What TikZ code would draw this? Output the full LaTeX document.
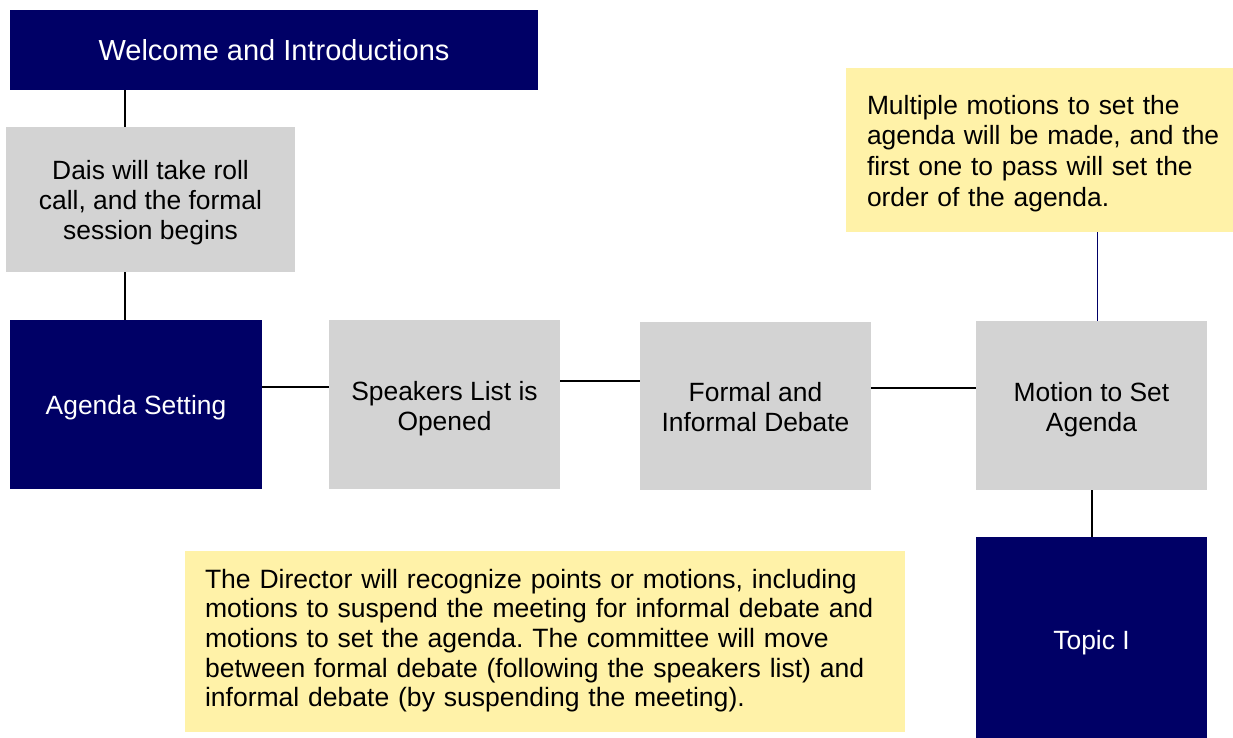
\documentclass[tikz,border=0pt]{standalone}
\usepackage{fontspec}
\setmainfont{Liberation Sans}
\frenchspacing
\definecolor{navy}{RGB}{0,0,102}
\definecolor{boxgray}{RGB}{211,211,211}
\definecolor{noteyellow}{RGB}{255,242,168}
\newcommand\boxlbl[2][-3.5pt]{\raisebox{#1}[\height][\depth]{\begin{tabular}{@{}c@{}}#2\end{tabular}}}
\newcommand\notelbl[2][-3pt]{\raisebox{#1}[\height][\depth]{\begin{tabular}{@{}l@{}}#2\end{tabular}}}
\begin{document}
\begin{tikzpicture}[x=0.75pt,y=-0.75pt,
  base/.style={draw=none,inner sep=0pt,align=center,font=\fontsize{19.8}{22.5}\selectfont},
  darkbox/.style={base,fill=navy,text=white},
  greybox/.style={base,fill=boxgray,text=black},
  notebox/.style={draw=none,fill=noteyellow,text=black,align=left,inner ysep=0pt},
  link/.style={line width=1.5pt,black},
  thinlink/.style={line width=0.75pt,navy}]
\useasboundingbox (0,0) rectangle (1233,738);

\node[darkbox,minimum width=396pt,minimum height=60pt,font=\fontsize{21.75}{25}\selectfont] (welcome) at (274,50) {Welcome and Introductions};
\node[greybox,minimum width=216.75pt,minimum height=108.75pt] (dais) at (150.5,199.5) {\boxlbl[-3pt]{Dais will take roll\\call, and the formal\\session begins}};
\node[darkbox,minimum width=189pt,minimum height=126.75pt] (agenda) at (136,404.5) {\boxlbl[-3pt]{Agenda Setting}};
\node[greybox,minimum width=173.25pt,minimum height=126.75pt] (speakers) at (444.5,404.5) {\boxlbl[-3.75pt]{Speakers List is\\Opened}};
\node[greybox,minimum width=173.25pt,minimum height=126pt] (formal) at (755.5,406) {\boxlbl{Formal and\\Informal Debate}};
\node[greybox,minimum width=173.25pt,minimum height=126.75pt] (motion) at (1091.5,405.5) {\boxlbl{Motion to Set\\Agenda}};
\node[darkbox,minimum width=173.25pt,minimum height=150.75pt] (topic) at (1091.5,637.5) {\boxlbl[-4.5pt]{Topic I}};

\node[notebox,inner xsep=15.75pt,text width=258.75pt,minimum height=123pt,font=\fontsize{19.8}{23}\selectfont] (topnote) at (1039.5,150)
  {\notelbl{Multiple motions to set the\\agenda will be made, and the\\first one to pass will set the\\order of the agenda.}};
\node[notebox,inner xsep=15pt,text width=510pt,minimum height=135.75pt,font=\fontsize{19.9}{22.2}\selectfont] (bottomnote) at (545,641.5)
  {\notelbl[0pt]{The Director will recognize points or motions, including\\motions to suspend the meeting for informal debate and\\motions to set the agenda. The committee will move\\between formal debate (following the speakers list) and\\informal debate (by suspending the meeting).}};

\coordinate (x125) at (125,0);
\coordinate (x1092) at (1092,0);
\coordinate (x1097) at (1097,0);
\coordinate (y387) at (0,387.3);
\coordinate (y381) at (0,380.7);
\coordinate (y388) at (0,387.7);

\draw[link] (welcome.south -| x125) -- (dais.north -| x125);
\draw[link] (dais.south -| x125) -- (agenda.north -| x125);
\draw[link] (agenda.east |- y387) -- (speakers.west |- y387);
\draw[link] (speakers.east |- y381) -- (formal.west |- y381);
\draw[link] (formal.east |- y388) -- (motion.west |- y388);
\draw[link] (motion.south -| x1092) -- (topic.north -| x1092);
\draw[thinlink] (topnote.south -| x1097) -- (motion.north -| x1097);
\end{tikzpicture}
\end{document}
